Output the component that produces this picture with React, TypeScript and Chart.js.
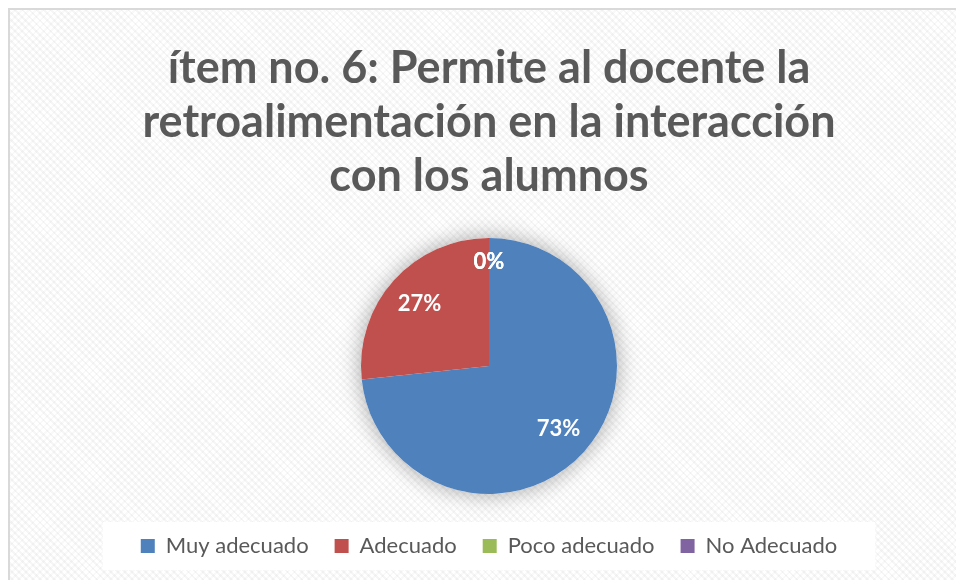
import React, { useEffect, useRef } from "react";
import { Chart, registerables } from "chart.js";

Chart.register(...registerables);

const titleLines = [
  "ítem no. 6: Permite al docente la",
  "retroalimentación en la interacción",
  "con los alumnos",
];
const categories = ["Muy adecuado", "Adecuado", "Poco adecuado", "No Adecuado"];
const values = [11, 4, 0, 0];
const colors = ["#4F81BD", "#C0504D", "#9BBB59", "#8064A2"];

const FONT = "Lato, 'Open Sans', sans-serif";

const framePlugin = {
  id: "frame",
  beforeDraw(chart: any) {
    const { ctx } = chart;
    ctx.save();
    ctx.strokeStyle = "#d9d9d9";
    ctx.lineWidth = 2;
    ctx.beginPath();
    ctx.moveTo(1, chart.height);
    ctx.lineTo(1, 1);
    ctx.lineTo(chart.width, 1);
    ctx.stroke();
    const lg = chart.legend;
    if (lg && lg.legendHitBoxes && lg.legendHitBoxes.length) {
      const hb = lg.legendHitBoxes;
      const first = hb[0];
      const last = hb[hb.length - 1];
      const cy = first.top + first.height / 2;
      const left = first.left - 38;
      const right = last.left + last.width + 38;
      ctx.fillStyle = "#ffffff";
      ctx.fillRect(left, cy - 24, right - left, 48);
    }
    ctx.restore();
  },
};

const shadowPlugin = {
  id: "pieShadow",
  beforeDatasetsDraw(chart: any) {
    const meta = chart.getDatasetMeta(0);
    const arc = meta.data[0];
    if (!arc) return;
    const { ctx } = chart;
    ctx.save();
    ctx.shadowColor = "rgba(0,0,0,0.35)";
    ctx.shadowBlur = 22;
    ctx.fillStyle = "#ffffff";
    ctx.beginPath();
    ctx.arc(arc.x, arc.y, arc.outerRadius, 0, Math.PI * 2);
    ctx.fill();
    ctx.restore();
  },
};

const labelPlugin = {
  id: "pctLabels",
  afterDatasetsDraw(chart: any) {
    const meta = chart.getDatasetMeta(0);
    const data = chart.data.datasets[0].data as number[];
    const total = data.reduce((a, b) => a + b, 0);
    const { ctx } = chart;
    ctx.save();
    ctx.fillStyle = "#ffffff";
    ctx.font = `bold 22px ${FONT}`;
    ctx.textAlign = "center";
    ctx.textBaseline = "middle";
    meta.data.forEach((arc: any, i: number) => {
      const v = data[i];
      const mid = (arc.startAngle + arc.endAngle) / 2;
      const f = v === 0 ? 0.81 : 0.73;
      const r = arc.outerRadius * f;
      const x = arc.x + Math.cos(mid) * r;
      const y = arc.y + Math.sin(mid) * r;
      const pct = Math.round((v / total) * 100) + "%";
      ctx.fillText(pct, x, y);
    });
    ctx.restore();
  },
};

export default function App() {
  const ref = useRef<HTMLCanvasElement>(null);
  useEffect(() => {
    if (!ref.current) return;
    const chart = new Chart(ref.current, {
      type: "pie",
      data: {
        labels: categories,
        datasets: [
          {
            data: values,
            backgroundColor: colors,
            borderWidth: 0,
            radius: 128,
          } as any,
        ],
      },
      options: {
        animation: false,
        responsive: false,
        layout: { padding: { top: 0, bottom: 31, left: 0, right: 0 } },
        plugins: {
          title: {
            display: true,
            text: titleLines,
            color: "#595959",
            font: { family: FONT, size: 45, weight: "bold", lineHeight: 1.2 },
            padding: { top: 33, bottom: 20 },
          },
          legend: {
            position: "bottom",
            labels: {
              color: "#595959",
              font: { family: FONT, size: 22 },
              boxWidth: 14,
              boxHeight: 14,
              padding: 26,
            },
          },
          tooltip: { enabled: false },
        },
      },
      plugins: [framePlugin, shadowPlugin, labelPlugin],
    });
    return () => chart.destroy();
  }, []);
  return (
    <div
      style={{
        position: "fixed",
        left: 8,
        top: 8,
        width: 962,
        height: 590,
        backgroundColor: "#ffffff",
        backgroundImage:
          "repeating-linear-gradient(45deg, rgba(0,0,0,0.035) 0px, rgba(0,0,0,0.035) 2px, transparent 2px, transparent 5px), repeating-linear-gradient(-45deg, rgba(0,0,0,0.025) 0px, rgba(0,0,0,0.025) 2px, transparent 2px, transparent 5px)",
      }}
    >
      <canvas ref={ref} width={962} height={590} style={{ display: "block" }} />
    </div>
  );
}
